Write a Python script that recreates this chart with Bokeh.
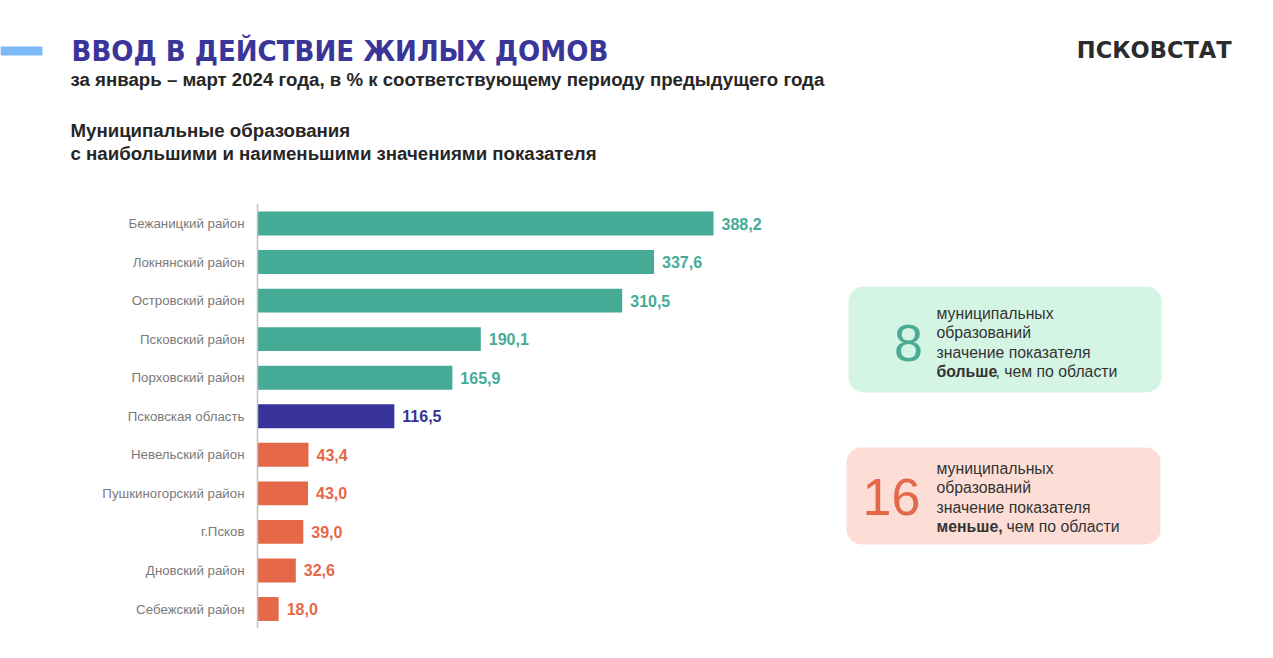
from bokeh.plotting import figure
from bokeh.models import Range1d, Label, BoxAnnotation, ColumnDataSource
from bokeh.core.properties import value
from bokeh.embed import file_html
from bokeh.resources import INLINE

# ---------------- data ----------------
categories = [
    "Бежаницкий район", "Локнянский район", "Островский район", "Псковский район",
    "Порховский район", "Псковская область", "Невельский район",
    "Пушкиногорский район", "г.Псков", "Дновский район", "Себежский район",
]
values = [388.2, 337.6, 310.5, 190.1, 165.9, 116.5, 43.4, 43.0, 39.0, 32.6, 18.0]
region = "Псковская область"
count_more = 8
count_less = 16

title = "ВВОД В ДЕЙСТВИЕ ЖИЛЫХ ДОМОВ"
subtitle = "за январь – март 2024 года, в % к соответствующему периоду предыдущего года"
section = ["Муниципальные образования", "с наибольшими и наименьшими значениями показателя"]
logo = "ПСКОВСТАТ"

# ---------------- colours ----------------
C_MORE = "#45AB96"
C_REGION = "#37339A"
C_LESS = "#E56848"
C_TITLE = "#3A3598"
C_DARK = "#262626"

# ---------------- layout ----------------
W, H = 1265, 650
OX, OY = 0, 0                    # figure origin in the screenshot
BAR_X0 = 257 - OX                # canvas px of value 0
K = (713 - 257) / 388.2          # px per unit
ROW0 = 223.0 - OY                # canvas px of first row centre
STEP = 38.55                     # px between rows

x_range = Range1d(-BAR_X0 / K, (W - BAR_X0) / K)
y_range = Range1d((H - ROW0) / STEP, -ROW0 / STEP)

p = figure(width=W, height=H, x_range=x_range, y_range=y_range,
           x_axis_type=None, y_axis_type=None, output_backend="svg",
           toolbar_location=None, min_border=0)
p.grid.visible = False
p.outline_line_color = None
p.background_fill_color = "white"
p.extra_x_ranges = {"px": Range1d(OX, OX + W)}
p.extra_y_ranges = {"px": Range1d(OY + H, OY)}

region_val = values[categories.index(region)]
colors = [C_REGION if c == region else (C_MORE if v > region_val else C_LESS)
          for c, v in zip(categories, values)]
src = ColumnDataSource(dict(
    y=list(range(len(categories))), v=values, cat=categories, color=colors,
    lab=[f"{v:.1f}".replace(".", ",") for v in values],
))

p.hbar(y="y", left=0, right="v", height=0.62, fill_color="color",
       line_color=None, source=src)
p.segment(x0=0, x1=0, y0=-0.5, y1=len(categories) - 0.5,
          line_color="#BFBFBF", line_width=1.5)
p.text(x=0, y="y", text="cat", source=src, x_offset=-13, text_align="right",
       text_baseline="middle", text_font=value("Liberation Sans"),
       text_font_size="13.3px", text_color="#7A7A7A")
p.text(x="v", y="y", text="lab", source=src, x_offset=8, text_align="left",
       text_baseline="middle", text_font=value("Liberation Sans"),
       text_font_size="16px", text_font_style="bold", text_color="color")


def lbl(x, y, text, size, color, bold=False, align="left",
        font="Liberation Sans"):
    # y is the wanted baseline; correct for the label's own anchor offset
    p.add_layout(Label(x=x, y=y - 0.38 * size, x_range_name="px", y_range_name="px",
                       text=text, text_font=font, text_font_size=f"{size}px",
                       text_font_style="bold" if bold else "normal",
                       text_color=color, text_align=align,
                       text_baseline="alphabetic"))


def box(l, r, t, b, fill):
    p.add_layout(BoxAnnotation(left=l, right=r, top=t, bottom=b,
                               x_range_name="px", y_range_name="px",
                               fill_color=fill, fill_alpha=1.0,
                               line_color=None, border_radius=15))


# accent bar
p.add_layout(BoxAnnotation(left=0, right=42, top=46, bottom=55,
                           x_range_name="px", y_range_name="px",
                           fill_color="#7DB9F6", fill_alpha=1.0, line_color=None))

# headings
lbl(71, 62, title, 29, C_TITLE, bold=True, font="DejaVu Sans Condensed")
lbl(70, 86, subtitle, 18.67, C_DARK, bold=True)
lbl(70, 137, section[0], 18.67, C_DARK, bold=True)
lbl(70, 160, section[1], 18.67, C_DARK, bold=True)
lbl(1231, 58, logo, 22.5, "#2B2B2B", bold=True, align="right", font="DejaVu Sans")

# info boxes
box(848, 1161, 286, 392, "#D5F5E4")
box(846, 1160, 447, 544, "#FCDED6")

TXT = "#333333"
FS = 15.8
lbl(908, 362, str(count_more), 52, "#4AAA93", align="center")
for yy, t in zip([319.5, 338.5, 358, 377.5],
                 ["муниципальных", "образований", "значение показателя"]):
    lbl(936, yy, t, FS, TXT)
lbl(936, 377.5, "больше", FS, TXT, bold=True)
lbl(995, 377.5, ", чем по области", FS, TXT)

lbl(891, 516, str(count_less), 52, "#E3694A", align="center")
for yy, t in zip([474.5, 493.5, 513, 532],
                 ["муниципальных", "образований", "значение показателя"]):
    lbl(936, yy, t, FS, TXT)
lbl(936, 532, "меньше,", FS, TXT, bold=True)
lbl(1006, 532, "чем по области", FS, TXT)

open("out.html", "w").write(file_html(p, INLINE))
